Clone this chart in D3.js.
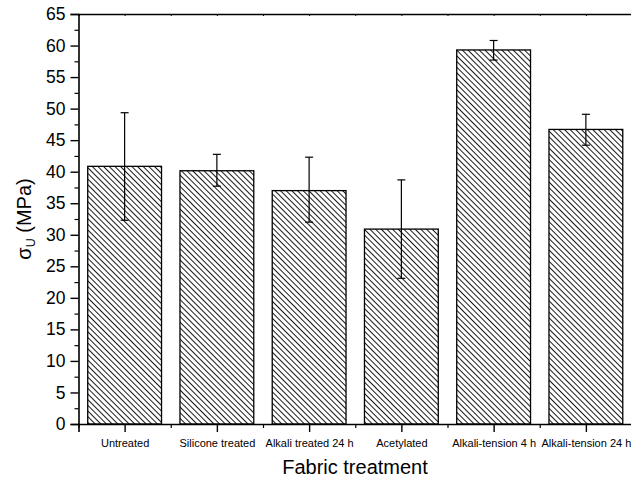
<!DOCTYPE html>
<html><head><meta charset="utf-8">
<script src="https://cdn.jsdelivr.net/npm/d3@7"></script>
<style>body{margin:0;background:#fff;}svg{display:block;font-family:"Liberation Sans",Arial,sans-serif;}</style>
</head><body><svg id="c" width="631" height="481"></svg>
<script>
const categories = ["Untreated","Silicone treated","Alkali treated 24 h","Acetylated","Alkali-tension 4 h","Alkali-tension 24 h"];
const means = [40.85, 40.15, 37.0, 30.9, 59.3, 46.7];
const errLow = [32.3, 37.7, 32.0, 23.1, 57.7, 44.2];
const errHigh = [49.35, 42.75, 42.3, 38.7, 60.8, 49.1];
const yTicks = [0,5,10,15,20,25,30,35,40,45,50,55,60,65];

const svg = d3.select("#c");
const L = 78.5, R = 632, T = 14, B = 424;
const x = d3.scaleBand().domain(categories).range([L, R]).paddingInner(0.2).paddingOuter(0.1);
const xl = d3.scaleLinear().domain([0, categories.length]).range([L, R]);
const y = d3.scaleLinear().domain([0, 65]).range([B, T]);

const defs = svg.append("defs");
const pat = defs.append("pattern").attr("id","hatch").attr("patternUnits","userSpaceOnUse")
  .attr("width",4).attr("height",4).attr("patternTransform","rotate(45)");
pat.append("rect").attr("width",4).attr("height",4).attr("fill","#fff");
pat.append("line").attr("x1",-1).attr("y1",0.5).attr("x2",5).attr("y2",0.5).attr("stroke","#000").attr("stroke-width",0.9);

// bars
svg.append("g").selectAll("rect").data(categories).join("rect")
  .attr("x", d => x(d)).attr("width", x.bandwidth())
  .attr("y", (d,i) => y(means[i])).attr("height", (d,i) => y(0) - y(means[i]))
  .attr("fill","url(#hatch)").attr("stroke","#000").attr("stroke-width",1.3);

// error bars
const eg = svg.append("g").attr("stroke","#000").attr("stroke-width",1.2);
categories.forEach((c,i) => {
  const cx = x(c) + x.bandwidth()/2;
  eg.append("line").attr("x1",cx).attr("x2",cx).attr("y1",y(errLow[i])).attr("y2",y(errHigh[i]));
  eg.append("line").attr("x1",cx-4).attr("x2",cx+4).attr("y1",y(errLow[i])).attr("y2",y(errLow[i]));
  eg.append("line").attr("x1",cx-4).attr("x2",cx+4).attr("y1",y(errHigh[i])).attr("y2",y(errHigh[i]));
});

// left axis
const ya = svg.append("g").attr("transform",`translate(${L},0)`)
  .call(d3.axisLeft(y).tickValues(yTicks).tickSize(8).tickPadding(5));
ya.select(".domain").attr("stroke-width",1.6);
ya.selectAll(".tick line").attr("stroke-width",1.4);
ya.selectAll("text").attr("font-size",17.5).attr("fill","#000");
const minorY = yTicks.slice(0,-1).map(v => v + 2.5);
svg.append("g").attr("transform",`translate(${L},0)`)
  .call(d3.axisLeft(y).tickValues(minorY).tickSize(4).tickFormat(""))
  .call(g => g.select(".domain").remove()).selectAll("line").attr("stroke-width",1.2);

// bottom axis
const centers = categories.map((c,i) => i + 0.5);
const bounds = d3.range(0, categories.length + 1);
const xa = svg.append("g").attr("transform",`translate(0,${B})`)
  .call(d3.axisBottom(xl).tickValues(centers).tickSize(8).tickPadding(7).tickFormat((d,i) => categories[i]));
xa.select(".domain").attr("stroke-width",1.6);
xa.selectAll(".tick line").attr("stroke-width",1.4);
xa.selectAll("text").attr("font-size",11).attr("fill","#000");
svg.append("g").attr("transform",`translate(0,${B})`)
  .call(d3.axisBottom(xl).tickValues(bounds).tickSize(4).tickFormat(""))
  .call(g => g.select(".domain").remove()).selectAll("line").attr("stroke-width",1.2);

// top axis
const ta = svg.append("g").attr("transform",`translate(0,${T})`)
  .call(d3.axisTop(xl).tickValues(centers.concat(bounds)).tickSize(-2).tickFormat(""));
ta.select(".domain").attr("stroke-width",1.6);

// titles
svg.append("text").attr("x", 355).attr("y", 474).attr("text-anchor","middle")
  .attr("font-size",20).attr("fill","#000").text("Fabric treatment");
const yt = svg.append("text").attr("transform","translate(31,219) rotate(-90)").attr("text-anchor","middle")
  .attr("font-size",20).attr("fill","#000");
yt.append("tspan").text("σ");
yt.append("tspan").attr("font-size",12.5).attr("dy",4).text("U");
yt.append("tspan").attr("dy",-4).text(" (MPa)");
</script></body></html>
